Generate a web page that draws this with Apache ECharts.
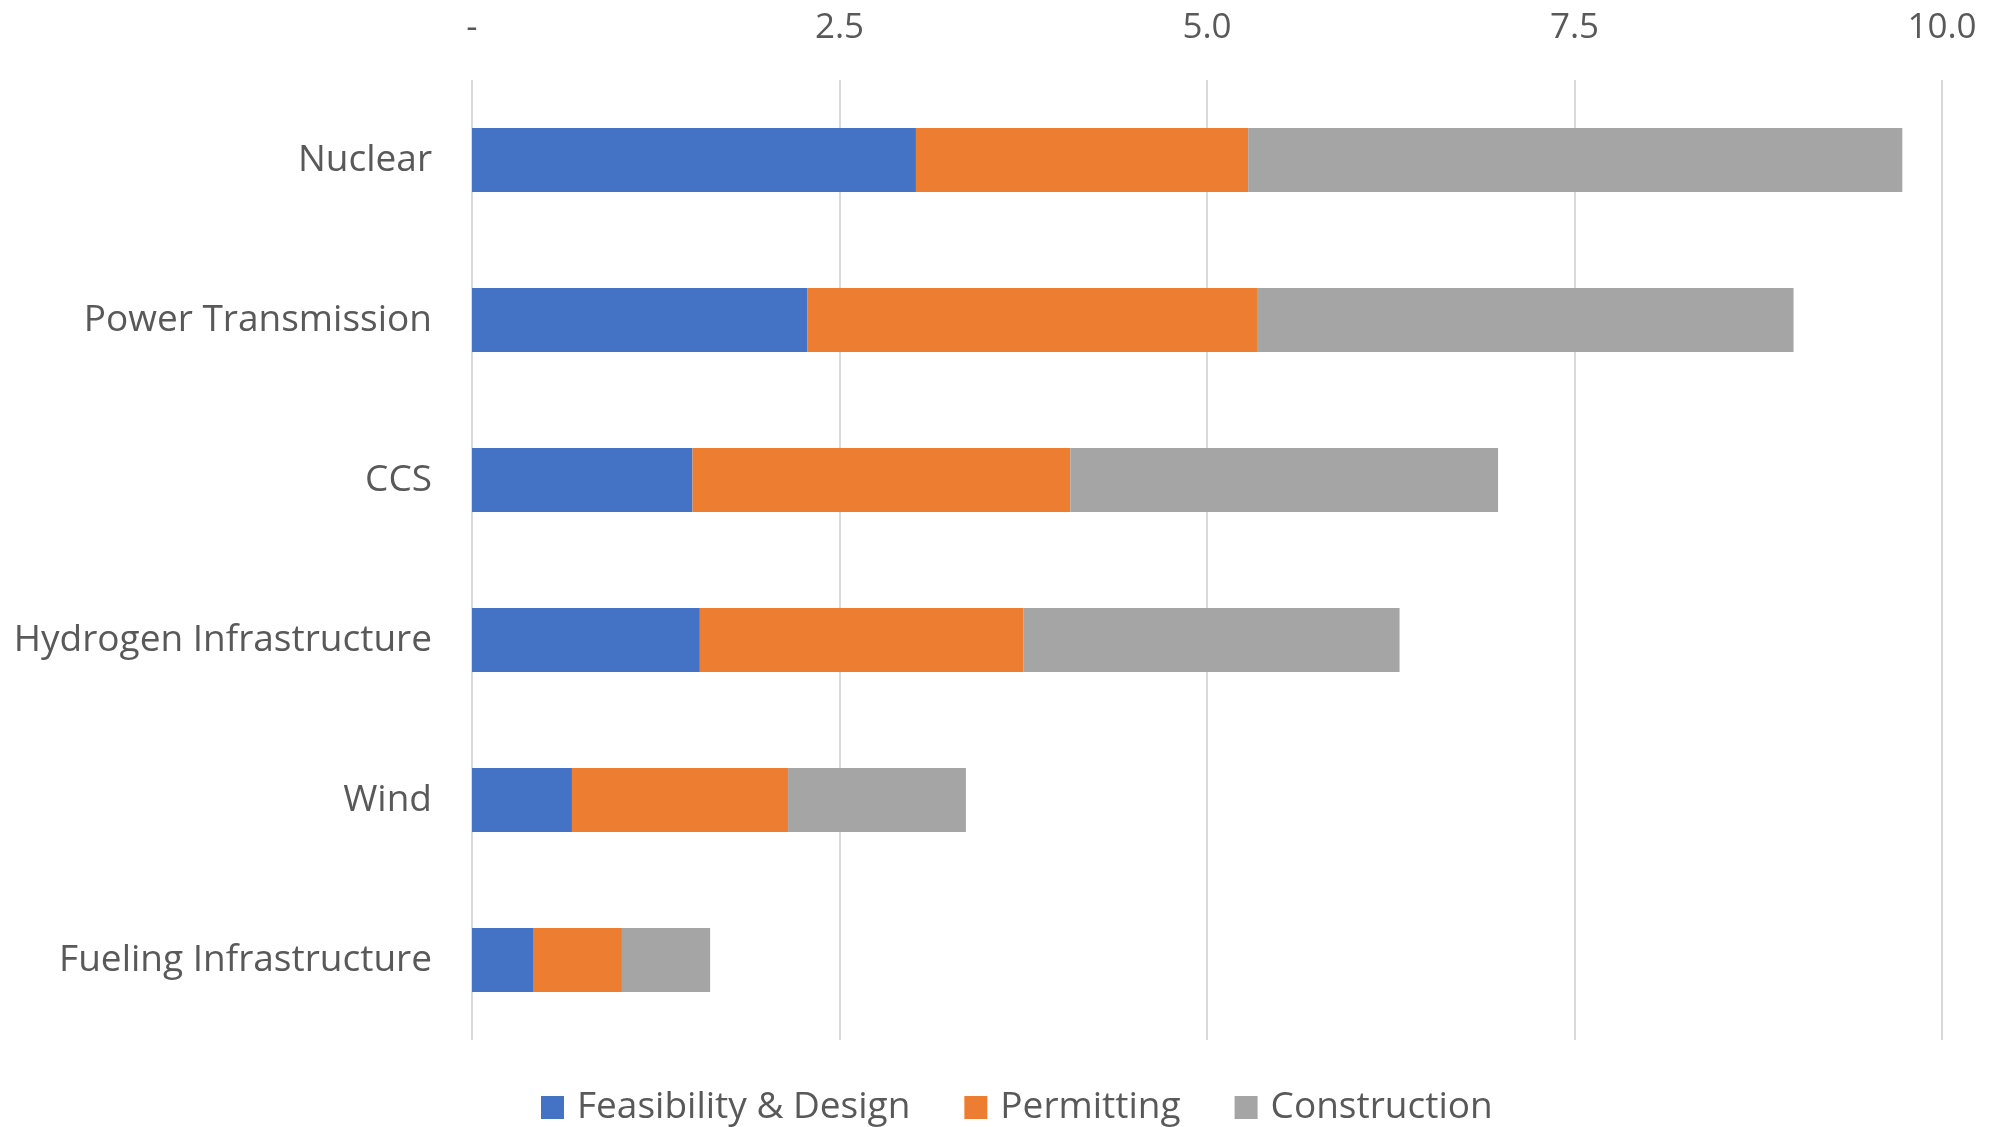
<!DOCTYPE html>
<html>
  <head>
    <meta charset="utf-8" />
    <title>Project timelines</title>
    <script src="https://cdn.jsdelivr.net/npm/echarts@6/dist/echarts.min.js"></script>
    <style>
      body { margin: 0; background: #fff; }
      #main { width: 2000px; height: 1127px; }
    </style>
  </head>
  <body>
    <div id="main"></div>
    <script type="text/javascript">
// categories, top to bottom
var categories = ['Nuclear', 'Power Transmission', 'CCS', 'Hydrogen Infrastructure', 'Wind', 'Fueling Infrastructure'];
var seriesNames = ['Feasibility & Design', 'Permitting', 'Construction'];
var feasibility = [3.02, 2.28, 1.50, 1.55, 0.68, 0.42];
var permitting = [2.26, 3.06, 2.57, 2.20, 1.47, 0.60];
var construction = [4.45, 3.65, 2.91, 2.56, 1.21, 0.60];
var colors = ['#4472C4', '#ED7D31', '#A5A5A5'];

var chart = echarts.init(document.getElementById('main'));
var font = '"Open Sans", "Noto Sans", sans-serif';

function bar(name, data, color) {
  return {
    name: name,
    type: 'bar',
    stack: 'total',
    data: data,
    barWidth: '40%',
    itemStyle: { color: color },
    emphasis: { disabled: true }
  };
}

var option = {
  animation: false,
  textStyle: { fontFamily: font },
  grid: { left: 472, right: 58, top: 80, bottom: 87, containLabel: false },
  legend: {
    top: 1084,
    left: 536,
    icon: 'rect',
    itemWidth: 23,
    itemHeight: 23,
    itemGap: 54,
    textStyle: { fontSize: 37, color: '#595959', fontFamily: font, padding: [0, 0, 0, 8] },
    data: seriesNames
  },
  xAxis: {
    type: 'value',
    position: 'top',
    min: 0,
    max: 10,
    interval: 2.5,
    axisLine: { show: false },
    axisTick: { show: false },
    splitLine: { lineStyle: { color: '#D9D9D9', width: 2 } },
    axisLabel: {
      fontSize: 35,
      color: '#595959',
      margin: 34,
      formatter: function (v) { return v === 0 ? '-' : v.toFixed(1); }
    }
  },
  yAxis: {
    type: 'category',
    inverse: true,
    data: categories,
    axisLine: { show: false },
    axisTick: { show: false },
    axisLabel: { fontSize: 37, color: '#595959', margin: 40, padding: [6, 0, 0, 0] }
  },
  series: [
    bar(seriesNames[0], feasibility, colors[0]),
    bar(seriesNames[1], permitting, colors[1]),
    bar(seriesNames[2], construction, colors[2])
  ]
};

chart.setOption(option);
    </script>
  </body>
</html>
